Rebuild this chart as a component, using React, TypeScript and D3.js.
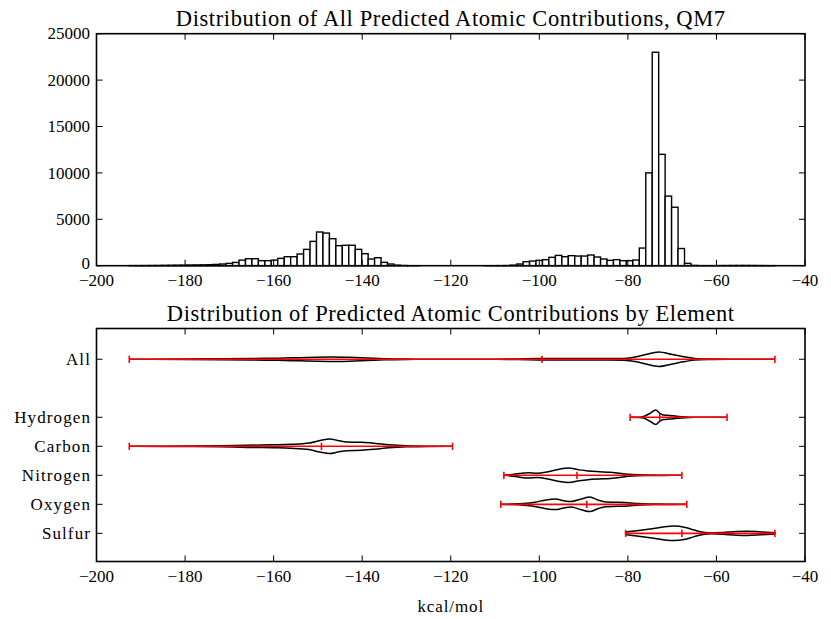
import React from "react";
import * as d3 from "d3";

const W = 831;
const H = 619;

// ---------- Top histogram data ----------
const histMin = -192.6;
const histMax = -46.8;
const histCounts = [
  10, 12, 15, 20, 25, 35, 45, 55, 60, 70,
  80, 90, 110, 140, 180, 250, 350, 600, 750, 750,
  540, 540, 600, 790, 970, 970, 1260, 1760, 2620, 3630,
  3520, 2910, 2160, 2200, 2200, 1760, 1290, 720, 860, 360,
  180, 60, 20, 5, 2, 0, 0, 0, 0, 0,
  0, 0, 0, 0, 0, 2, 5, 8, 15, 60,
  180, 430, 500, 575, 650, 900, 1110, 970, 1080, 1040,
  1040, 1150, 935, 720, 575, 650, 540, 540, 610, 1900,
  10000, 23000, 12000, 7500, 6300, 1850, 250, 30, 5, 3,
  5, 10, 15, 20, 25, 25, 20, 15, 10, 5,
];

const xTicks = [-200, -180, -160, -140, -120, -100, -80, -60, -40];
const yTicksTop = [0, 5000, 10000, 15000, 20000, 25000];

// ---------- Violin data ----------
const categories = ["All", "Hydrogen", "Carbon", "Nitrogen", "Oxygen", "Sulfur"];
const categoryPositions = [0, 2, 3, 4, 5, 6];
const mins = [-192.6, -79.5, -192.6, -108.0, -108.7, -80.5];
const maxs = [-46.8, -57.6, -119.6, -67.8, -66.7, -46.8];
const means = [-99.4, -72.8, -149.2, -91.5, -89.3, -67.8];

// [value, relative density]
const violinAll: [number, number][] = [
  [-192.6, 0], [-188, 0.01], [-180, 0.03], [-172, 0.06], [-165, 0.1], [-159, 0.15],
  [-154, 0.22], [-150, 0.28], [-147, 0.3], [-143, 0.26], [-139, 0.18], [-135, 0.08],
  [-130, 0.02], [-124, 0.0], [-115, 0.0], [-110, 0.01], [-105, 0.05], [-100, 0.09],
  [-94, 0.11], [-88, 0.1], [-84, 0.09], [-81, 0.12], [-78, 0.35], [-76, 0.65],
  [-73, 1.0], [-70, 0.65], [-67.5, 0.35], [-65, 0.12], [-62, 0.03], [-57, 0.01],
  [-52, 0.01], [-46.8, 0],
];
const violinHydrogen: [number, number][] = [
  [-79.5, 0], [-77.5, 0.02], [-76.5, 0.1], [-75, 0.55], [-73.7, 1.0], [-72.8, 0.55],
  [-72, 0.32], [-70.5, 0.25], [-69, 0.15], [-67, 0.05], [-65, 0.01], [-60, 0], [-57.6, 0],
];
const violinCarbon: [number, number][] = [
  [-192.6, 0], [-185, 0.01], [-178, 0.03], [-172, 0.07], [-166, 0.15], [-160, 0.2],
  [-156, 0.27], [-152, 0.45], [-149.5, 0.8], [-147.3, 1.0], [-145.5, 0.8], [-143.5, 0.6],
  [-140, 0.55], [-137, 0.4], [-134, 0.2], [-130, 0.06], [-125, 0.01], [-119.6, 0],
];
const violinNitrogen: [number, number][] = [
  [-108, 0], [-106.5, 0.08], [-104.5, 0.25], [-102.5, 0.37], [-100.5, 0.3], [-98, 0.5],
  [-95.5, 0.85], [-93.4, 1.0], [-91, 0.75], [-89, 0.6], [-86.5, 0.5], [-84, 0.43],
  [-81.5, 0.25], [-79, 0.1], [-76, 0.03], [-72, 0.01], [-67.8, 0],
];
const violinOxygen: [number, number][] = [
  [-108.7, 0], [-106, 0.03], [-103.5, 0.12], [-101, 0.3], [-98.5, 0.6], [-96.3, 0.72],
  [-94.5, 0.5], [-92.8, 0.38], [-90.5, 0.75], [-88.6, 1.0], [-86.8, 0.6], [-85, 0.32],
  [-82.5, 0.28], [-80, 0.22], [-77.5, 0.1], [-74, 0.03], [-70, 0.01], [-66.7, 0],
];
const violinSulfur: [number, number][] = [
  [-80.5, 0.18], [-78, 0.35], [-75, 0.6], [-72, 0.88], [-69.6, 1.0], [-67, 0.8],
  [-65, 0.45], [-63, 0.15], [-61, 0.06], [-58.5, 0.12], [-55.5, 0.25], [-53, 0.3],
  [-50, 0.2], [-46.8, 0.08],
];
const violinProfiles = [violinAll, violinHydrogen, violinCarbon, violinNitrogen, violinOxygen, violinSulfur];

const FONT = "Liberation Serif, Tinos, DejaVu Serif, Times New Roman, serif";
const fmtMinus = (v: number) => (v < 0 ? "\u2212" + Math.abs(v) : String(v));

export default function App() {
  const left = 96.5;
  const right = 805;
  const topA = 33.7;
  const botA = 265.7;
  const topB = 328.5;
  const botB = 561.5;
  const tickLen = 6;

  const x = d3.scaleLinear().domain([-200, -40]).range([left, right]);
  const yTop = d3.scaleLinear().domain([0, 25000]).range([botA, topA]);
  const yBot = d3.scaleLinear().domain([-1.06, 6.97]).range([topB, botB]);

  const binW = (histMax - histMin) / histCounts.length;
  const halfW = 0.25; // in y-units
  const capW = 0.125;

  const areaFor = (pos: number) =>
    d3
      .area<[number, number]>()
      .x((d) => x(d[0]))
      .y0((d) => yBot(pos - d[1] * halfW))
      .y1((d) => yBot(pos + d[1] * halfW))
      .curve(d3.curveMonotoneX);

  const frame = (t: number, b: number) => (
    <rect x={left} y={t} width={right - left} height={b - t} fill="none" stroke="black" strokeWidth={1.6} />
  );

  const xTickMarks = (t: number, b: number) =>
    xTicks.map((v) => (
      <g key={"xt" + v}>
        <line x1={x(v)} x2={x(v)} y1={b} y2={b - tickLen} stroke="black" strokeWidth={1} />
        <line x1={x(v)} x2={x(v)} y1={t} y2={t + tickLen} stroke="black" strokeWidth={1} />
      </g>
    ));

  const xTickLabels = (b: number) =>
    xTicks.map((v) => (
      <text key={"xl" + v} x={x(v)} y={b + 20.5} textAnchor="middle" fontSize={17} fontFamily={FONT}>
        {fmtMinus(v)}
      </text>
    ));

  return (
    <svg
      width={W}
      height={H}
      style={{ position: "absolute", left: 0, top: 0, background: "white", fontFamily: FONT }}
      xmlns="http://www.w3.org/2000/svg"
    >
      <rect x={0} y={0} width={W} height={H} fill="white" />

      {/* ---------- Top histogram ---------- */}
      <text x={(left + right) / 2} y={26} textAnchor="middle" fontSize={22.5} fontFamily={FONT} letterSpacing={0.6}>
        Distribution of All Predicted Atomic Contributions, QM7
      </text>
      <g>
        {histCounts.map((c, i) => {
          const x0 = x(histMin + i * binW);
          const x1 = x(histMin + (i + 1) * binW);
          return (
            <rect
              key={"b" + i}
              x={x0}
              y={yTop(c)}
              width={x1 - x0}
              height={yTop(0) - yTop(c)}
              fill="white"
              stroke="black"
              strokeWidth={1.4}
            />
          );
        })}
      </g>
      {frame(topA, botA)}
      {xTickMarks(topA, botA)}
      {yTicksTop.map((v) => (
        <g key={"yt" + v}>
          <line x1={left} x2={left + tickLen} y1={yTop(v)} y2={yTop(v)} stroke="black" strokeWidth={1} />
          <line x1={right} x2={right - tickLen} y1={yTop(v)} y2={yTop(v)} stroke="black" strokeWidth={1} />
          <text x={90} y={yTop(v)} dy={v === 0 ? "0.2em" : "0.33em"} textAnchor="end" fontSize={17} fontFamily={FONT}>
            {v}
          </text>
        </g>
      ))}
      {xTickLabels(botA)}

      {/* ---------- Bottom violins ---------- */}
      <text x={(left + right) / 2} y={321} textAnchor="middle" fontSize={22.5} fontFamily={FONT} letterSpacing={0.6}>
        Distribution of Predicted Atomic Contributions by Element
      </text>
      <g>
        {violinProfiles.map((prof, i) => {
          const pos = categoryPositions[i];
          return (
            <path key={"v" + i} d={areaFor(pos)(prof) || ""} fill="none" stroke="black" strokeWidth={1.5} />
          );
        })}
      </g>
      <g stroke="red" strokeWidth={1.6}>
        {categories.map((c, i) => {
          const pos = categoryPositions[i];
          const yc = yBot(pos);
          const ya = yBot(pos - capW);
          const yb = yBot(pos + capW);
          return (
            <g key={"e" + c}>
              <line x1={x(mins[i])} x2={x(maxs[i])} y1={yc} y2={yc} />
              <line x1={x(mins[i])} x2={x(mins[i])} y1={ya} y2={yb} />
              <line x1={x(maxs[i])} x2={x(maxs[i])} y1={ya} y2={yb} />
              <line x1={x(means[i])} x2={x(means[i])} y1={ya} y2={yb} />
            </g>
          );
        })}
      </g>
      {frame(topB, botB)}
      {xTickMarks(topB, botB)}
      {categories.map((c, i) => {
        const yc = yBot(categoryPositions[i]);
        return (
          <g key={"yc" + c}>
            <line x1={left} x2={left + tickLen} y1={yc} y2={yc} stroke="black" strokeWidth={1} />
            <line x1={right} x2={right - tickLen} y1={yc} y2={yc} stroke="black" strokeWidth={1} />
            <text x={91} y={yc} dy="0.35em" textAnchor="end" fontSize={17} fontFamily={FONT} letterSpacing={1.1}>
              {c}
            </text>
          </g>
        );
      })}
      {xTickLabels(botB)}
      <text x={(left + right) / 2} y={612} textAnchor="middle" fontSize={17} fontFamily={FONT} letterSpacing={0.9}>
        kcal/mol
      </text>
    </svg>
  );
}
